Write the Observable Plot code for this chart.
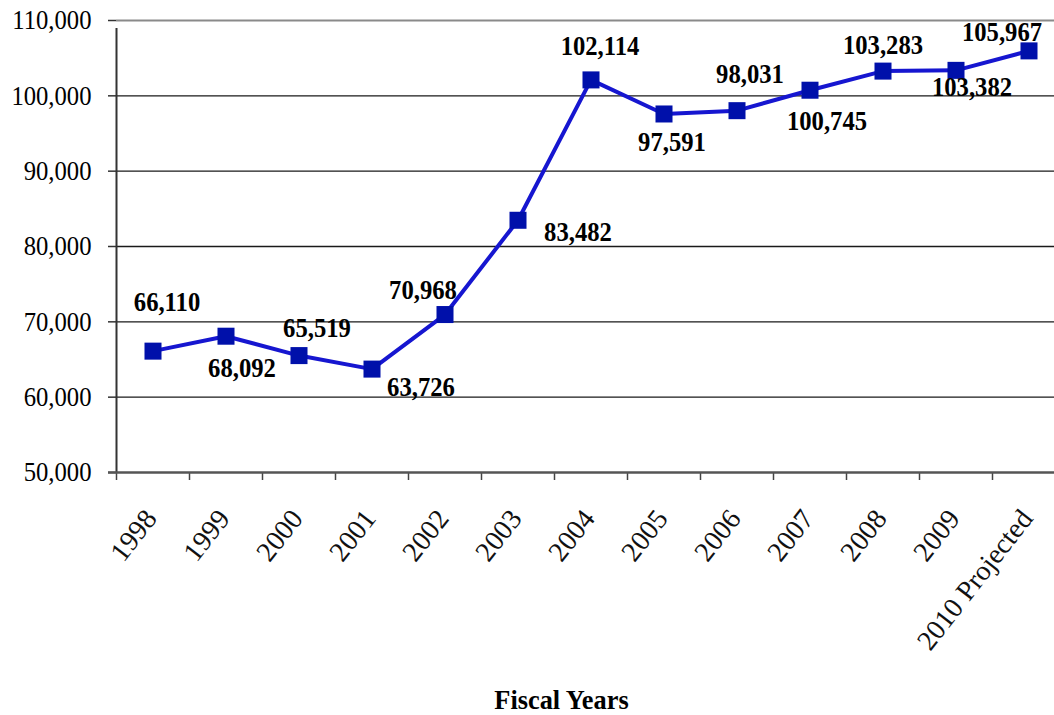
<!DOCTYPE html>
<html>
<head>
<meta charset="utf-8">
<script src="https://cdn.jsdelivr.net/npm/d3@7"></script>
<script src="https://cdn.jsdelivr.net/npm/@observablehq/plot@0.6"></script>
<style>
  html, body { margin: 0; padding: 0; background: #fff; overflow: hidden; }
</style>
</head>
<body>
<script>
const years = ["1998", "1999", "2000", "2001", "2002", "2003", "2004", "2005", "2006", "2007", "2008", "2009", "2010 Projected"];
const students = [66110, 68092, 65519, 63726, 70968, 83482, 102114, 97591, 98031, 100745, 103283, 103382, 105967];
const labelText = ["66,110", "68,092", "65,519", "63,726", "70,968", "83,482", "102,114", "97,591", "98,031", "100,745", "103,283", "103,382", "105,967"];
const yTicks = [50000, 60000, 70000, 80000, 90000, 100000, 110000];
const xTitle = "Fiscal Years";

// label placement (pixels relative to each point)
const labelOffsets = [[14, -49], [16, 32], [18, -28], [49, 18], [-22, -25], [60, 12], [9, -34], [8, 28], [13, -37], [17, 31], [0, -26], [16, 17], [-27, -19]];

const rows = years.map((y, i) => ({year: y, value: students[i], label: labelText[i]}));
const W = 1054, H = 715, ML = 116, MB = 243, MT = 20;
const step = 73;

const labelMarks = rows.map((r, i) => Plot.text([r], {
  x: "year", y: "value", text: "label",
  dx: labelOffsets[i][0], dy: labelOffsets[i][1],
  fontWeight: "bold", fontSize: 28, fill: "#000"
}));

const chart = Plot.plot({
  width: W, height: H,
  marginLeft: ML, marginRight: 0, marginTop: MT, marginBottom: MB,
  style: {fontFamily: "'Liberation Serif', 'Times New Roman', serif", fontSize: "28px", background: "#fff", color: "#000"},
  x: {type: "band", domain: years, range: [ML, ML + step * years.length], padding: 0, axis: null},
  y: {domain: [50000, 110000], axis: null},
  marks: [
    Plot.ruleY(yTicks.filter(t => t > 50000 && t < 110000), {stroke: "#1a1a1a", strokeWidth: 1.4}),
    Plot.ruleY([110000], {stroke: "#8a8a8a", strokeWidth: 2}),
    Plot.axisY({ticks: yTicks, label: null, tickSize: 8, tickPadding: 17, tickFormat: d3.format(","), fontSize: 28, stroke: "#333", strokeWidth: 1.5}),
    Plot.ruleX(years, {x: d => d, dx: -step / 2, y1: 50000, y2: 50000, insetBottom: -8, stroke: "#444", strokeWidth: 1.5}),
    Plot.ruleX([years[0]], {dx: -step / 2, y1: 50000, y2: 110000, insetBottom: -8, stroke: "#333", strokeWidth: 2}),
    Plot.ruleY([50000], {insetLeft: -8, stroke: "#555", strokeWidth: 2.5}),
    Plot.text(years, {x: d => d, frameAnchor: "bottom", rotate: -52, textAnchor: "end", lineAnchor: "middle", dx: -2, dy: 41, fontSize: 28, fill: "#111"}),
    Plot.text([xTitle], {frameAnchor: "bottom", lineAnchor: "bottom", dx: -24, dy: 236, fontWeight: "bold", fontSize: 28, fill: "#000"}),
    Plot.line(rows, {x: "year", y: "value", stroke: "#1616d0", strokeWidth: 4}),
    Plot.dot(rows, {x: "year", y: "value", symbol: "square", r: 9.6, fill: "#0010aa", stroke: "none"}),
    ...labelMarks
  ]
});
document.body.append(chart);
chart.querySelectorAll("text").forEach(t => {
  const tr = t.getAttribute("transform") || "";
  if (tr.includes("rotate")) return;
  const L = t.getComputedTextLength();
  if (L > 0) {
    const k = t.textContent === xTitle ? 0.94 : 0.88;
    t.setAttribute("textLength", (L * k).toFixed(1));
    t.setAttribute("lengthAdjust", "spacingAndGlyphs");
  }
});
</script>
</body>
</html>
